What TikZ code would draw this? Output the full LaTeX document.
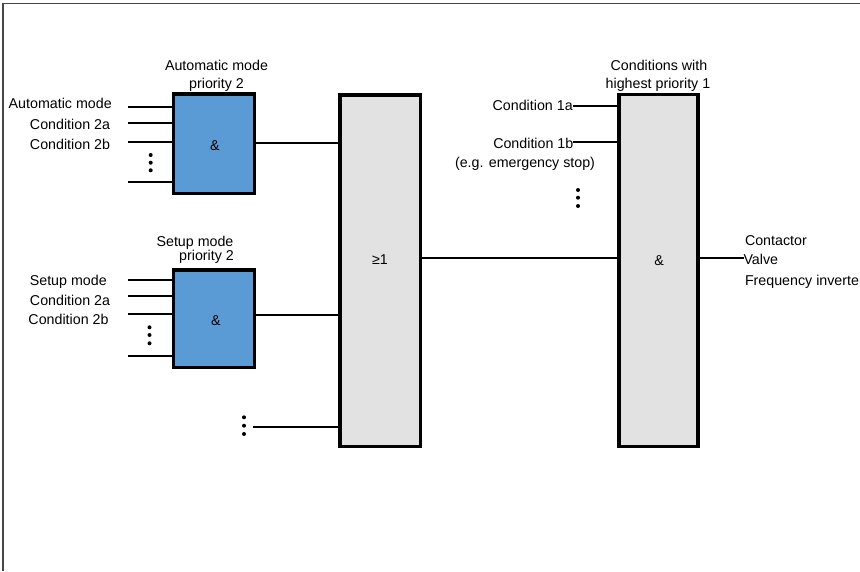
\documentclass[tikz,border=0pt]{standalone}
\usepackage{fontspec}
\setmainfont{Liberation Sans}
\definecolor{gateblue}{RGB}{91,155,213}
\definecolor{gategray}{RGB}{225,226,225}
\definecolor{framegray}{RGB}{70,70,70}
\begin{document}
\begin{tikzpicture}[x=1pt,y=-1pt,
  font=\fontsize{14.25}{17}\selectfont,
  gate/.style={draw=black, line width=3.3pt, rectangle, inner sep=0pt, outer sep=0pt},
  wire/.style={line width=2pt},
  txt/.style={inner sep=0pt, outer sep=0pt},
  vdot/.style={fill=black, circle, inner sep=0pt, minimum size=4pt}
]
\useasboundingbox (0,0) rectangle (860,571);
\clip (0,0) rectangle (860,571);

% page frame
\draw[framegray, line width=1.5pt] (3,571) -- (3,3.5) -- (860,3.5);

% gates
\node[gate, fill=gateblue, minimum width=80.7pt, minimum height=99.4pt] (b1) at (214,143.7) {};
\node[gate, fill=gateblue, minimum width=80.7pt, minimum height=97.4pt] (b2) at (214,318.7) {};
\node[gate, fill=gategray, minimum width=80.7pt, minimum height=351.7pt] (or) at (380.3,270.8) {};
\node[gate, fill=gategray, minimum width=79.2pt, minimum height=352.3pt] (and) at (658.5,270.5) {};

% gate symbols
\node[txt, anchor=base] (b1sym) at (215,150) {\&};
\node[txt, anchor=base] (b2sym) at (216,325) {\&};
\node[txt, anchor=base] (orsym) at (380,264) {≥1};
\node[txt, anchor=base] (andsym) at (659,265) {\&};

% titles
\node[txt, anchor=base] (t1a) at (216.5,70) {Automatic mode};
\node[txt, anchor=base] (t1b) at (216.5,88) {priority 2};
\node[txt, anchor=base] (t2a) at (195,246.5) {Setup mode};
\node[txt, anchor=base] (t2b) at (206.5,260) {priority 2};
\node[txt, anchor=base] (t3a) at (659,70.5) {Conditions with};
\node[txt, anchor=base] (t3b) at (658,88) {highest priority 1};

% inputs of the automatic mode gate
\node[txt, anchor=base east] (a1) at (111.7,108.3) {Automatic mode};
\node[txt, anchor=base east] (a2) at (110,129) {Condition 2a};
\node[txt, anchor=base east] (a3) at (110,149) {Condition 2b};
\coordinate (ai1) at (128,107.3);
\coordinate (ai2) at (128,123.3);
\coordinate (ai3) at (128,141.7);
\coordinate (ai4) at (128,181.7);
\foreach \c in {ai1,ai2,ai3,ai4}
  \draw[wire] (\c) -- (b1.west |- \c);
\node[vdot] (ad1) at (150.7,155) {};
\node[vdot] (ad2) at (150.7,162.7) {};
\node[vdot] (ad3) at (150.7,170.3) {};

% inputs of the setup mode gate
\node[txt, anchor=base east] (s1) at (106.7,285) {Setup mode};
\node[txt, anchor=base east] (s2) at (110,305) {Condition 2a};
\node[txt, anchor=base east] (s3) at (108.5,324) {Condition 2b};
\coordinate (si1) at (128,280);
\coordinate (si2) at (128,296);
\coordinate (si3) at (128,314.3);
\coordinate (si4) at (128,355.7);
\foreach \c in {si1,si2,si3,si4}
  \draw[wire] (\c) -- (b2.west |- \c);
\node[vdot] (sd1) at (149.5,327.3) {};
\node[vdot] (sd2) at (149.5,335) {};
\node[vdot] (sd3) at (149.5,343.3) {};

% gate outputs into the OR gate
\draw[wire] (b1.east |- 0,142.5) -- (or.west |- 0,142.5);
\draw[wire] (b2.east |- 0,315) -- (or.west |- 0,315);
\coordinate (oi3) at (253,426.7);
\draw[wire] (oi3) -- (or.west |- oi3);
\node[vdot] (od1) at (244,417.3) {};
\node[vdot] (od2) at (244,425.7) {};
\node[vdot] (od3) at (244,434) {};

% OR gate into the final AND gate
\draw[wire] (or.east |- 0,257.7) -- (and.west |- 0,257.7);

% highest priority conditions
\node[txt, anchor=base east] (c1) at (572.7,110) {Condition 1a};
\node[txt, anchor=base east] (c2) at (573.3,148) {Condition 1b};
\node[txt, anchor=base east] (c3) at (595,167.5) {(e.g. emergency stop)};
\draw[wire] (c1.east |- 0,106) -- (and.west |- 0,106);
\draw[wire] (c2.east |- 0,141.7) -- (and.west |- 0,141.7);
\node[vdot] (cd1) at (578,190) {};
\node[vdot] (cd2) at (578,197.7) {};
\node[vdot] (cd3) at (578,206) {};

% output
\node[txt, anchor=base west] (q1) at (745,245) {Contactor};
\node[txt, anchor=base west] (q2) at (743.5,264.5) {Valve};
\node[txt, anchor=base west] (q3) at (745,285) {Frequency inverter};
\draw[wire] (and.east |- 0,257.7) -- (q2.west |- 0,257.7);
\end{tikzpicture}
\end{document}
